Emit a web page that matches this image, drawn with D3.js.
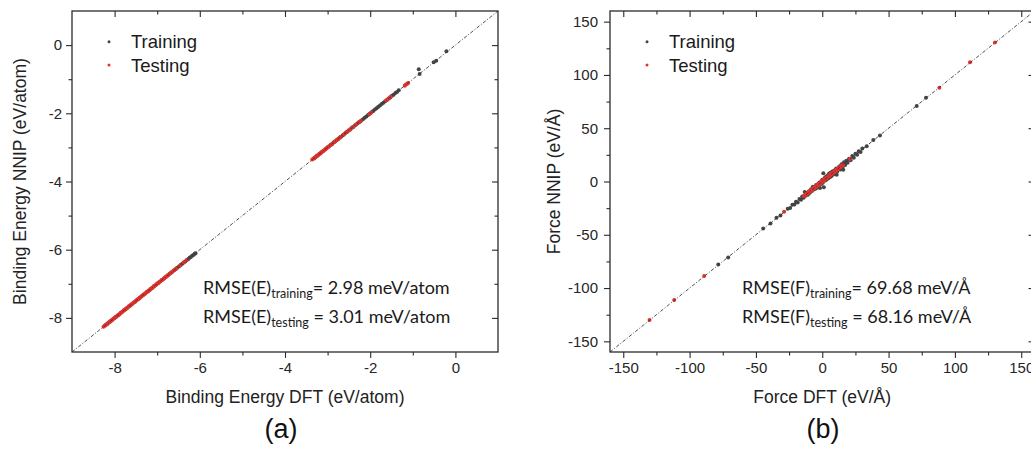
<!DOCTYPE html>
<html>
<head>
<meta charset="utf-8">
<script src="https://cdn.jsdelivr.net/npm/d3@7"></script>
<style>
  html, body { margin: 0; padding: 0; background: #fff; }
  svg { display: block; }
</style>
</head>
<body>
<svg id="fig" width="1031" height="449"></svg>
<script>
// ---- Binding energy parity data (eV/atom) ----
const energyTicks = [-8, -6, -4, -2, 0];
const energyMinorTicks = [-7, -5, -3, -1];

const energyTrainDFT = [
  -8.22, -8.18, -8.15, -8.11, -8.08, -8.05, -8.01, -7.97, -7.93, -7.90, -7.86, -7.82, -7.78, -7.74,
  -7.70, -7.66, -7.62, -7.58, -7.53, -7.49, -7.45, -7.41, -7.37, -7.33, -7.28, -7.24, -7.20, -7.15,
  -7.11, -7.07, -7.02, -6.98, -6.93, -6.89, -6.84, -6.80, -6.75, -6.70, -6.66, -6.61, -6.57, -6.53,
  -6.49, -6.45, -6.41, -6.38, -6.34, -6.31, -6.27, -6.24, -6.21, -6.18, -6.15, -6.12, -6.10,
  -3.31, -3.28, -3.25, -3.22, -3.19, -3.16, -3.13, -3.10, -3.06, -3.03, -3.00, -2.97, -2.93, -2.90,
  -2.86, -2.83, -2.79, -2.76, -2.72, -2.69, -2.65, -2.62, -2.58, -2.54, -2.51, -2.47, -2.43, -2.40,
  -2.36, -2.32, -2.28, -2.25, -2.21, -2.17, -2.13, -2.09, -2.05, -2.01, -1.97, -1.93, -1.89, -1.85,
  -1.81, -1.77, -1.73, -1.69, -1.65, -1.61, -1.57, -1.53, -1.49, -1.45, -1.41, -1.37, -1.33,
  -0.86, -0.84, -0.51, -0.45, -0.21
];
const energyTrainNNIP = [
  -8.218, -8.184, -8.147, -8.113, -8.077, -8.052, -8.008, -7.973, -7.927, -7.904, -7.857, -7.823, -7.776, -7.743,
  -7.702, -7.657, -7.624, -7.577, -7.533, -7.488, -7.453, -7.407, -7.374, -7.328, -7.283, -7.236, -7.204, -7.147,
  -7.113, -7.068, -7.024, -6.977, -6.933, -6.887, -6.843, -6.798, -6.754, -6.697, -6.663, -6.608, -6.574, -6.527,
  -6.493, -6.447, -6.414, -6.377, -6.343, -6.308, -6.274, -6.237, -6.213, -6.177, -6.154, -6.118, -6.102,
  -3.308, -3.284, -3.247, -3.223, -3.187, -3.164, -3.127, -3.103, -3.058, -3.034, -2.997, -2.973, -2.928, -2.904,
  -2.857, -2.833, -2.788, -2.764, -2.717, -2.693, -2.648, -2.624, -2.577, -2.543, -2.508, -2.474, -2.427, -2.403,
  -2.358, -2.324, -2.277, -2.253, -2.208, -2.174, -2.127, -2.093, -2.048, -2.014, -1.967, -1.934, -1.888, -1.853,
  -1.807, -1.774, -1.728, -1.693, -1.647, -1.614, -1.568, -1.533, -1.487, -1.454, -1.408, -1.373, -1.327,
  -0.71, -0.85, -0.50, -0.46, -0.18
];

const energyTestDFT = [
  -8.26, -8.23, -8.20, -8.17, -8.14, -8.12, -8.09, -8.06, -8.03, -8.00, -7.97, -7.94, -7.91, -7.88,
  -7.85, -7.82, -7.79, -7.76, -7.73, -7.70, -7.67, -7.64, -7.61, -7.58, -7.55, -7.52, -7.49, -7.46,
  -7.43, -7.40, -7.37, -7.34, -7.31, -7.28, -7.25, -7.22, -7.19, -7.16, -7.13, -7.10, -7.07, -7.04,
  -7.01, -6.98, -6.95, -6.92, -6.89, -6.86, -6.83, -6.80, -6.77, -6.74, -6.71, -6.68, -6.65, -6.60,
  -6.55, -6.46, -6.38, -6.31,
  -3.36, -3.34, -3.31, -3.29, -3.26, -3.24, -3.21, -3.18, -3.15, -3.12, -3.09, -3.05, -3.01, -2.97,
  -2.93, -2.90, -2.86, -2.82, -2.78, -2.74, -2.70, -2.62, -2.55, -2.50, -2.46, -2.40, -2.33, -2.26,
  -2.22, -2.02, -1.98, -1.62, -1.57, -1.52, -1.19, -1.16, -1.13, -1.11
];
const energyTestNNIP = [
  -8.257, -8.233, -8.198, -8.174, -8.137, -8.123, -8.088, -8.063, -8.028, -8.004, -7.967, -7.943, -7.908, -7.884,
  -7.847, -7.823, -7.788, -7.764, -7.727, -7.703, -7.668, -7.644, -7.607, -7.583, -7.548, -7.524, -7.487, -7.463,
  -7.428, -7.404, -7.367, -7.343, -7.308, -7.284, -7.247, -7.223, -7.188, -7.164, -7.127, -7.103, -7.068, -7.044,
  -7.007, -6.983, -6.948, -6.924, -6.887, -6.863, -6.828, -6.804, -6.767, -6.743, -6.708, -6.684, -6.647, -6.603,
  -6.548, -6.464, -6.377, -6.313,
  -3.357, -3.343, -3.308, -3.294, -3.257, -3.243, -3.208, -3.184, -3.147, -3.123, -3.088, -3.054, -3.007, -2.973,
  -2.928, -2.904, -2.857, -2.823, -2.778, -2.744, -2.697, -2.624, -2.547, -2.503, -2.458, -2.404, -2.327, -2.257,
  -2.223, -2.018, -1.984, -1.617, -1.573, -1.518, -1.193, -1.157, -1.133, -1.108
];

// ---- Force parity data (eV/Å) ----
const forceTicks = [-150, -100, -50, 0, 50, 100, 150];
const forceMinorTicks = [-125, -75, -25, 25, 75, 125];

const forceTrainDFT = [
  -78.4, -70.9, -44.5, -39.0, -34.5, -31.5,
  -26.0, -24.2, -22.5, -21.0, -19.8, -18.5, -17.2, -16.0, -15.1, -14.0, -13.2, -12.5, -11.6, -10.8,
  -10.0, -9.3, -8.5, -7.8, -7.1, -6.4, -5.8, -5.2, -4.6, -4.0, -3.4, -2.8, -2.2, -1.7, -1.1, -0.6,
  0.0, 0.4, 0.8, 1.2, 1.8, 2.3, 2.9, 3.4, 4.0, 4.6, 5.2, 5.8, 6.4, 7.0, 7.6, 8.3, 9.0, 9.7, 10.5,
  10.9, 11.3, 12.8, 13.6, 14.5, 15.3, 15.8, 16.4, 17.3, 18.2, 19.1, 20.2, 21.4, 22.6, 23.8, 25.0,
  26.3, 27.5, 28.9, 30.2,
  33.5, 38.5, 43.5, 71.2, 78.2
];
const forceTrainNNIP = [
  -78.0, -71.3, -44.0, -39.4, -34.1, -31.9,
  -25.6, -24.8, -21.8, -21.6, -19.0, -19.6, -16.5, -17.1, -14.0, -15.2, -9.8, -13.3, -10.9, -12.4,
  -9.1, -10.6, -7.2, -8.9, -5.0, -7.6, -4.9, -6.8, -3.2, -5.9, -2.6, -4.5, -1.0, -6.2, -0.4, -2.3,
  1.6, -1.2, 7.8, -5.5, 3.2, 0.9, 4.6, 1.8, 5.7, 3.1, 7.4, 4.0, 8.2, 5.1, 9.3, 6.6, 10.4, 7.9, 12.2,
  6.3, 9.4, 14.0, 11.2, 16.3, 13.2, 11.0, 18.1, 15.4, 19.5, 17.6, 21.3, 19.9, 23.9, 22.3, 26.1,
  25.2, 28.4, 27.8, 30.9,
  33.1, 38.9, 43.2, 70.8, 78.5
];

const forceTestDFT = [
  -130.2, -111.6, -89.0, -28.8,
  -14.0, -13.0, -12.0, -11.0, -10.1, -9.2, -8.3, -7.5, -6.7, -5.9, -5.1, -4.3, -3.5, -2.7, -1.9,
  -1.1, -0.3, 0.5, 1.3, 2.1, 2.9, 3.7, 4.5, 5.3, 6.1, 6.9, 7.7, 8.5, 9.3, 10.1, 10.9, 11.8, 12.7,
  13.6, 14.6, 15.6, 20.9,
  88.3, 111.4, 130.2
];
const forceTestNNIP = [
  -130.0, -111.2, -88.6, -28.4,
  -13.5, -13.2, -11.6, -11.3, -9.7, -9.5, -7.9, -7.8, -6.2, -6.3, -4.7, -4.8, -3.0, -3.2, -1.5,
  -1.6, 0.2, 0.1, 1.8, 1.7, 3.4, 3.2, 5.0, 4.9, 6.6, 6.5, 8.2, 8.1, 9.8, 9.7, 11.4, 11.5, 13.1,
  13.3, 15.0, 15.2, 21.0,
  88.0, 111.8, 130.5
];

// ---- Labels ----
const seriesNames = ["Training", "Testing"];
const panelTags = ["(a)", "(b)"];
const energyRmse = ["2.98", "3.01"];
const forceRmse = ["69.68", "68.16"];

// ---- Drawing ----
const svg = d3.select("#fig");
const ink = "#2b2b2b";
const trainColor = "#454545";
const testColor = "#e8302c";
const labelFont = "'Liberation Sans', Arial, sans-serif";
const noteFont = "Lato, 'Open Sans', sans-serif";

function drawPanel(cfg, idx) {
  const x = d3.scaleLinear().domain(cfg.domain).range([cfg.left, cfg.right]);
  const y = d3.scaleLinear().domain(cfg.domain).range([cfg.bottom, cfg.top]);
  const g = svg.append("g");

  const clipId = "clip" + idx;
  g.append("clipPath").attr("id", clipId)
    .append("rect")
    .attr("x", cfg.left).attr("y", cfg.top)
    .attr("width", cfg.right - cfg.left).attr("height", cfg.bottom - cfg.top);

  const plot = g.append("g").attr("clip-path", `url(#${clipId})`);

  const train = cfg.trainX.map((v, i) => [v, cfg.trainY[i]]);
  const test = cfg.testX.map((v, i) => [v, cfg.testY[i]]);

  plot.append("g").selectAll("circle").data(train).join("circle")
    .attr("cx", d => x(d[0])).attr("cy", d => y(d[1]))
    .attr("r", 2).attr("fill", trainColor);

  plot.append("g").selectAll("circle").data(test).join("circle")
    .attr("cx", d => x(d[0])).attr("cy", d => y(d[1]))
    .attr("r", 2).attr("fill", testColor);

  // y = x reference line
  plot.append("line")
    .attr("x1", x(cfg.domain[0])).attr("y1", y(cfg.domain[0]))
    .attr("x2", x(cfg.domain[1])).attr("y2", y(cfg.domain[1]))
    .attr("stroke", "#3a3a3a").attr("stroke-width", 0.9)
    .attr("stroke-dasharray", "3.5,1.8,1,1.8");

  // axes: labelled bottom/left with outward ticks, mirrored top/right with inward ticks
  function styleAxis(sel) {
    sel.select(".domain").remove();
    sel.selectAll(".tick line").attr("stroke", ink).attr("stroke-width", 1.1);
    sel.selectAll(".tick text")
      .attr("fill", "#262626")
      .style("font-family", labelFont)
      .style("font-size", "15px");
  }

  g.append("g").attr("transform", `translate(0,${cfg.bottom})`)
    .call(d3.axisBottom(x).tickValues(cfg.ticks).tickSize(6).tickPadding(4)
      .tickFormat(d => d < 0 ? "-" + Math.abs(d) : String(d)))
    .call(styleAxis);
  g.append("g").attr("transform", `translate(0,${cfg.bottom})`)
    .call(d3.axisBottom(x).tickValues(cfg.minor).tickSize(3.5).tickFormat(""))
    .call(styleAxis);

  g.append("g").attr("transform", `translate(${cfg.left},0)`)
    .call(d3.axisLeft(y).tickValues(cfg.ticks).tickSize(6).tickPadding(cfg.yPad)
      .tickFormat(d => d < 0 ? "-" + Math.abs(d) : String(d)))
    .call(styleAxis);
  g.append("g").attr("transform", `translate(${cfg.left},0)`)
    .call(d3.axisLeft(y).tickValues(cfg.minor).tickSize(3.5).tickFormat(""))
    .call(styleAxis);

  g.append("g").attr("transform", `translate(0,${cfg.top})`)
    .call(d3.axisBottom(x).tickValues(cfg.ticks).tickSize(6).tickFormat(""))
    .call(styleAxis);
  g.append("g").attr("transform", `translate(0,${cfg.top})`)
    .call(d3.axisBottom(x).tickValues(cfg.minor).tickSize(3.5).tickFormat(""))
    .call(styleAxis);

  g.append("g").attr("transform", `translate(${cfg.right},0)`)
    .call(d3.axisLeft(y).tickValues(cfg.ticks).tickSize(6).tickFormat(""))
    .call(styleAxis);
  g.append("g").attr("transform", `translate(${cfg.right},0)`)
    .call(d3.axisLeft(y).tickValues(cfg.minor).tickSize(3.5).tickFormat(""))
    .call(styleAxis);

  // frame
  g.append("rect")
    .attr("x", cfg.left).attr("y", cfg.top)
    .attr("width", cfg.right - cfg.left).attr("height", cfg.bottom - cfg.top)
    .attr("fill", "none").attr("stroke", ink).attr("stroke-width", 1.3);

  // axis titles
  g.append("text")
    .attr("x", (cfg.left + cfg.right) / 2 + cfg.xTitleShift).attr("y", 403)
    .attr("text-anchor", "middle")
    .style("font-family", labelFont).style("font-size", "17.5px").attr("fill", "#222")
    .text(cfg.xTitle);

  g.append("text")
    .attr("transform", `translate(${cfg.yTitleX},${(cfg.top + cfg.bottom) / 2}) rotate(-90)`)
    .attr("text-anchor", "middle")
    .style("font-family", labelFont).style("font-size", "17.5px").attr("fill", "#222")
    .text(cfg.yTitle);

  // panel tag
  g.append("text")
    .attr("x", cfg.tagX).attr("y", 438)
    .attr("text-anchor", "middle")
    .style("font-family", labelFont).style("font-size", "27px").attr("fill", "#111")
    .text(cfg.tag);

  // legend
  const legend = g.append("g");
  [[trainColor, 41.7], [testColor, 65]].forEach((item, i) => {
    legend.append("circle")
      .attr("cx", cfg.left + cfg.legendDx).attr("cy", item[1])
      .attr("r", 1.5).attr("fill", item[0]);
    legend.append("text")
      .attr("x", cfg.left + cfg.legendDx + 22).attr("y", item[1] + 6.6)
      .style("font-family", labelFont).style("font-size", "18.5px").attr("fill", "#1a1a1a")
      .text(seriesNames[i]);
  });

  // RMSE annotation
  const notes = [["training", "= " + cfg.rmse[0] + " " + cfg.unit, 294],
                 ["testing", " = " + cfg.rmse[1] + " " + cfg.unit, 323]];
  notes.forEach(n => {
    const t = g.append("text")
      .attr("x", cfg.noteX).attr("y", n[2])
      .style("font-family", noteFont).style("font-size", "18px").attr("fill", "#1a1a1a");
    t.append("tspan").text(cfg.rmseLabel);
    t.append("tspan").attr("dy", 4).style("font-size", "12.5px").text(n[0]);
    t.append("tspan").attr("dy", -4).text(n[1]);
  });
}

drawPanel({
  domain: [-9, 1], left: 72, right: 498, top: 11, bottom: 352,
  ticks: energyTicks, minor: energyMinorTicks, yPad: 4,
  trainX: energyTrainDFT, trainY: energyTrainNNIP,
  testX: energyTestDFT, testY: energyTestNNIP,
  xTitle: "Binding Energy DFT (eV/atom)", xTitleShift: 0,
  yTitle: "Binding Energy NNIP (eV/atom)", yTitleX: 26,
  tag: panelTags[0], tagX: 281, legendDx: 37,
  rmseLabel: "RMSE(E)", rmse: energyRmse, unit: "meV/atom", noteX: 203
}, 0);

drawPanel({
  domain: [-160, 160], left: 610, right: 1034.5, top: 11, bottom: 352,
  ticks: forceTicks, minor: forceMinorTicks, yPad: 6,
  trainX: forceTrainDFT, trainY: forceTrainNNIP,
  testX: forceTestDFT, testY: forceTestNNIP,
  xTitle: "Force DFT (eV/Å)", xTitleShift: 0,
  yTitle: "Force NNIP (eV/Å)", yTitleX: 560,
  tag: panelTags[1], tagX: 823, legendDx: 37,
  rmseLabel: "RMSE(F)", rmse: forceRmse, unit: "meV/Å", noteX: 742
}, 1);
</script>
</body>
</html>
